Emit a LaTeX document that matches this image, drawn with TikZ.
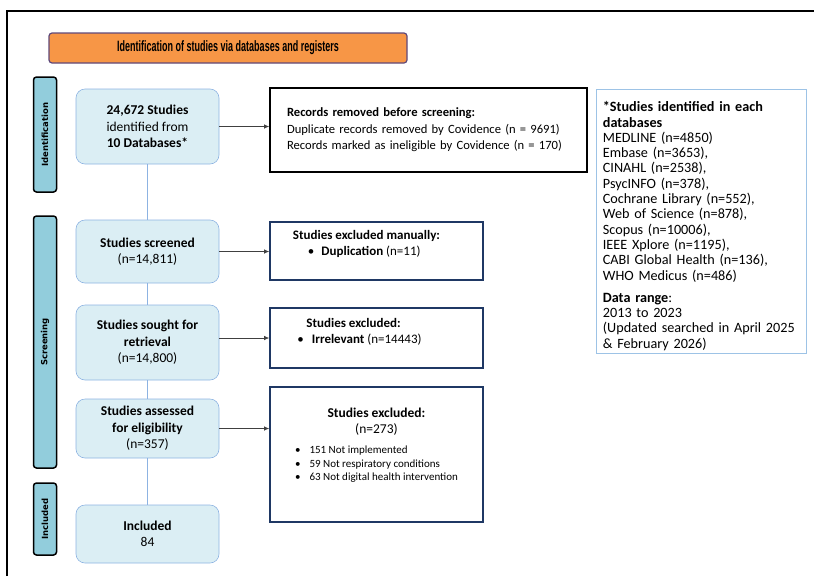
\documentclass[tikz,border=0pt]{standalone}
\usepackage{fontspec}
\setmainfont{Carlito}
\newfontfamily\bannerfont[FakeStretch=0.6]{Liberation Sans}
\newfontfamily\phasefont{DejaVu Sans}
\usetikzlibrary{arrows.meta, positioning}

\definecolor{bannerorange}{HTML}{F79646}
\definecolor{bannerline}{HTML}{5F497A}
\definecolor{phasefill}{HTML}{92CDDC}
\definecolor{flowfill}{HTML}{DBEEF4}
\definecolor{flowline}{HTML}{8DB3E2}
\definecolor{exclline}{HTML}{1F3864}
\definecolor{dbline}{HTML}{9DC3E6}
\definecolor{arrowgrey}{HTML}{404040}

% zero-width strut that deepens the last line (moves the text up in its box)
\newcommand{\lift}[1]{\rule[-#1]{0pt}{#1}}

\begin{document}
\begin{tikzpicture}[x=1pt, y=-1pt,
  banner/.style={draw=bannerline, line width=1.2pt, fill=bannerorange,
                 rounded corners=3pt, minimum width=358pt, minimum height=30pt,
                 font=\bannerfont\bfseries\fontsize{15}{16}\selectfont},
  phase/.style={draw=black, line width=1.5pt, fill=phasefill, rounded corners=3pt,
                rotate=90, minimum height=23pt, inner sep=0pt,
                font=\phasefont\bfseries\fontsize{8.5}{10}\selectfont},
  flowbox/.style={draw=flowline, line width=0.6pt, fill=flowfill, rounded corners=9pt,
                  minimum width=143pt, align=center, inner sep=2pt,
                  font=\fontsize{13.5}{16.5}\selectfont},
  exclbox/.style={draw=exclline, line width=1.6pt, fill=white, align=center,
                  inner sep=2pt, font=\fontsize{13}{16.5}\selectfont},
  link/.style={draw=flowline, line width=0.7pt},
  arr/.style={draw=arrowgrey, line width=0.7pt, -{Latex[length=5pt, width=4.5pt]}}]
  \useasboundingbox (0,0) rectangle (814,576);

  % outer frame (open to the right and bottom)
  \draw[line width=1.8pt] (7,576) -- (7,11) -- (814,11);

  \node[banner] (head) at (228,48) {Identification of studies via databases and registers};

  % phase bars
  \node[phase, minimum width=115pt] (pident) at (45,134.5) {Identification};
  \node[phase, minimum width=252pt] (pscreen) at (45,342) {Screening};
  \node[phase, minimum width=72pt]  (pincl) at (45,519) {Included};

  % main flow
  \node[flowbox, minimum height=75pt] (ident) at (147.5,126.5)
    {\textbf{24,672 Studies}\\identified from\\\textbf{10 Databases*}};
  \node[flowbox, minimum height=63pt] (screened) at (147.5,251.5)
    {\textbf{Studies screened}\\(n=14,811)};
  \node[flowbox, minimum height=75pt] (sought) at (147.5,342.5)
    {\textbf{Studies sought for}\\\textbf{retrieval}\\(n=14,800)};
  \node[flowbox, minimum height=59pt] (assessed) at (147.5,428.5)
    {\textbf{Studies assessed}\\\textbf{for eligibility}\\(n=357)};
  \node[flowbox, minimum height=58pt] (included) at (147.5,534)
    {\textbf{Included}\\84};

  \draw[link] (ident) -- (screened);
  \draw[link] (screened) -- (sought);
  \draw[link] (sought) -- (assessed);
  \draw[link] (assessed) -- (included);

  % exclusions
  \node[exclbox, draw=black, minimum width=317pt, minimum height=84pt,
        text width=283pt, align=left, font=\fontsize{12.6}{16.5}\selectfont]
        (removed) at (428.5,130)
    {\textbf{Records removed before screening:}\\
     Duplicate records removed by Covidence (n = 9691)\\
     Records marked as ineligible by Covidence (n = 170)};
  \node[exclbox, minimum width=213pt, minimum height=58pt, align=left] (manual) at (376.5,251)
    {\textbf{Studies excluded manually:}\hspace*{20pt}\\
     \hspace*{15pt}\textbullet\hspace{7pt}\textbf{Duplication} (n=11)\lift{16pt}};
  \node[exclbox, minimum width=213pt, minimum height=60pt, align=left] (irrel) at (376.5,338)
    {\hspace*{9pt}\textbf{Studies excluded:}\\
     \textbullet\hspace{8pt}\textbf{Irrelevant} (n=14443)\hspace*{34pt}\lift{14pt}};
  \node[exclbox, minimum width=213pt, minimum height=135pt,
        font=\fontsize{13.5}{16}\selectfont] (notelig) at (376.5,454.5)
    {\textbf{Studies excluded:}\\(n=273)\\[8pt]
     {\fontsize{11}{13.5}\selectfont
      \begin{tabular}[b]{@{}l@{\hspace{9pt}}l@{}}
        \textbullet & 151 Not implemented\\
        \textbullet & 59 Not respiratory conditions\\
        \textbullet & 63 Not digital health intervention
      \end{tabular}}\lift{20pt}};

  \draw[arr] (ident.east) -- (ident.east -| removed.west);
  \draw[arr] (screened.east) -- (screened.east -| manual.west);
  \draw[arr] (sought.east |- irrel.west) -- (irrel.west);
  \draw[arr] (assessed.east) -- (assessed.east -| notelig.west);

  % database counts
  \node[draw=dbline, line width=0.8pt, anchor=north west, minimum width=210pt,
        minimum height=261pt, text width=197pt, inner xsep=0pt, align=left,
        font=\fontsize{14.2}{15.3}\selectfont] (dbs) at (596,89)
    {\rule{0pt}{19pt}\textbf{*Studies identified in each}\\
     \textbf{databases}\\
     MEDLINE (n=4850)\\
     Embase (n=3653),\\
     CINAHL (n=2538),\\
     PsycINFO (n=378),\\
     Cochrane Library (n=552),\\
     Web of Science (n=878),\\
     Scopus (n=10006),\\
     IEEE Xplore (n=1195),\\
     CABI Global Health (n=136),\\
     WHO Medicus (n=486)\\[7pt]
     \textbf{Data range}:\\
     2013 to 2023\\
     (Updated searched in April 2025\\
     \& February 2026)};
\end{tikzpicture}
\end{document}
